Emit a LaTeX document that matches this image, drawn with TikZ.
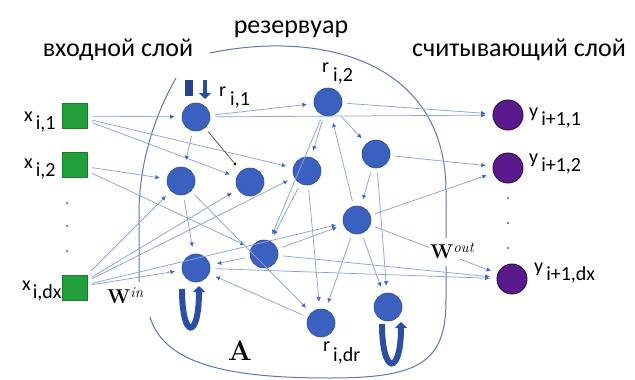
\documentclass[tikz,border=0pt]{standalone}
\usepackage{fontspec}
\setmainfont{Carlito}
\newfontfamily\lmrfam{Latin Modern Roman}
\usetikzlibrary{arrows.meta}
\definecolor{resblue}{HTML}{3A60C0}
\definecolor{resdark}{HTML}{2C4C9C}
\definecolor{ingreen}{HTML}{22A03A}
\definecolor{indark}{HTML}{1A7A2C}
\definecolor{outpurple}{HTML}{5A1A8E}
\definecolor{outdark}{HTML}{2A0A40}
\definecolor{edgeblue}{HTML}{8AA4DC}
\definecolor{arrowblue}{HTML}{3F66C8}
\definecolor{loopblue}{HTML}{2C4FA6}
\definecolor{boundblue}{HTML}{5A78B8}
\begin{document}
\begin{tikzpicture}[x=1pt,y=-1pt,
  resn/.style={circle, fill=resblue, draw=resdark, line width=0.6pt, minimum size=28pt, inner sep=0pt},
  inpn/.style={rectangle, fill=ingreen, draw=indark, line width=0.6pt, minimum size=25pt, inner sep=0pt},
  outn/.style={circle, fill=outpurple, draw=outdark, line width=0.9pt, minimum size=30pt, inner sep=0pt},
  conn/.style={draw=edgeblue, line width=0.75pt, -{Latex[length=4.5pt,width=4.5pt,color=arrowblue]}, shorten >=7pt, shorten <=5pt},
  darkconn/.style={conn, draw=black!65, -{Latex[length=3pt,width=3pt,color=black]}},
  loopst/.style={draw=loopblue, line width=6pt, -{Triangle[length=6pt,width=12pt]}},
  bound/.style={draw=boundblue, line width=1pt},
  lab/.style={font=\fontsize{20}{24}\selectfont, inner sep=0pt, anchor=base west},
  title/.style={font=\fontsize{26}{30}\selectfont, inner sep=0pt, anchor=base},
  dotn/.style={circle, fill=black!60, minimum size=2.4pt, inner sep=0pt}
]
\useasboundingbox (0,0) rectangle (635,380);
\fill[white] (0,0) rectangle (635,380);

% titles
\node[title] (tin) at (118,56) {входной слой};
\node[title] (tres) at (291,34) {резервуар};
\node[title] (tout) at (519,56) {считывающий слой};

% reservoir boundary
\draw[bound] (210,53) .. controls (320,30) and (445,60) .. (446,190) -- (446,238);
\draw[bound] (446,266) -- (446,300) .. controls (446,362) and (420,378) .. (330,378)
  .. controls (240,378) and (165,368) .. (150,317);
\draw[bound] (176,78) .. controls (155,115) and (140,160) .. (139,210) -- (139,282);

% input nodes
\node[inpn] (x1) at (74.5,116) {};
\node[inpn] (x2) at (74.5,165) {};
\node[inpn] (xd) at (74.5,287.5) {};
% reservoir nodes
\node[resn] (r1) at (196,117) {};
\node[resn] (r2) at (328,102) {};
\node[resn] (n3) at (181,181) {};
\node[resn] (n4) at (250,182) {};
\node[resn] (n5) at (307,171) {};
\node[resn] (n6) at (376,154) {};
\node[resn] (n7) at (357,220) {};
\node[resn] (n8) at (264,254) {};
\node[resn] (n9) at (196,268) {};
\node[resn] (n10) at (321,323) {};
\node[resn] (n11) at (388,307) {};
% output nodes
\node[outn] (y1) at (508,115) {};
\node[outn] (y2) at (508,168) {};
\node[outn] (yd) at (512,279) {};

% dots
\node[dotn] (dl1) at (67,203) {};
\node[dotn] (dl2) at (67,226) {};
\node[dotn] (dl3) at (67,251) {};
\node[dotn] (dr1) at (508,198) {};
\node[dotn] (dr2) at (508,223) {};
\node[dotn] (dr3) at (508,248) {};

% input connections
\draw[conn] (x1) -- (r1);
\draw[conn] (x1) -- (n5);
\draw[conn] (x1) -- (n4);
\draw[conn] (x2) -- (n3);
\draw[conn] (x2) -- (n8);
\draw[conn] (xd) -- (n3);
\draw[conn] (xd) -- (n4);
\draw[conn] (xd) -- (n5);
\draw[conn] (xd) -- (n7);
\draw[conn] (xd) -- (n9);

% internal connections
\draw[conn] (r1) -- (r2);
\draw[conn] (r1) -- (n3);
\draw[darkconn] (r1) -- (n4);
\draw[conn] (n3) -- (n9);
\draw[conn] (n3) -- (n10);
\draw[conn] (r2) -- (n5);
\draw[conn] (r2) -- (n6);
\draw[conn] (r2) -- (n8);
\draw[conn] (n7) -- (r2);
\draw[conn] (n6) -- (n7);
\draw[conn] (n6) -- (n11);
\draw[conn] (n5) -- (n8);
\draw[conn] (n5) -- (n10);
\draw[conn] (n7) -- (n10);
\draw[conn] (n7) -- (n11);
\draw[conn] (n8) -- (n9);
\draw[conn] (n8) -- (n7);
\draw[conn] (n10) -- (n9);

% output connections
\draw[conn] (r1) -- (y1);
\draw[conn] (r2) -- (y1);
\draw[conn] (n6) -- (y2);
\draw[conn] (n7) -- (y2);
\draw[conn] (n7) -- (yd);
\draw[conn] (n8) -- (yd);
\draw[conn] (n9) -- (yd);

% self loops
\coordinate (l9a) at (182,289);
\coordinate (l9b) at (199,286);
\draw[loopst] (l9a) .. controls (182,340) and (199,340) .. (l9b);
\coordinate (l11a) at (382,324);
\coordinate (l11b) at (401,322);
\draw[loopst] (l11a) .. controls (382,376) and (401,376) .. (l11b);
\coordinate (l1a) at (189,80);
\coordinate (l1b) at (189,96);
\draw[draw=loopblue!85!black, line width=8pt] (l1a) -- (l1b);
\coordinate (l1c) at (205,80);
\coordinate (l1d) at (205,99);
\draw[draw=loopblue, line width=3.5pt, -{Triangle[length=6pt,width=12pt]}] (l1c) -- (l1d);

% weight labels
\node[fill=white, inner sep=1pt, anchor=base west] (win) at (106,303)
  {\lmrfam\fontsize{20}{24}\selectfont\bfseries W\raisebox{6pt}{\mdseries\itshape\fontsize{15}{17}\selectfont in}};
\node[fill=white, inner sep=1pt, anchor=base west] (wout) at (429,258)
  {\lmrfam\fontsize{20}{24}\selectfont\bfseries W\raisebox{6pt}{\mdseries\itshape\fontsize{15}{17}\selectfont out}};
\node[anchor=base west, inner sep=0pt] (amat) at (228,360) {\lmrfam\fontsize{28}{32}\selectfont\bfseries A};

% node labels
\node[lab] (lx1) at (24,121) {x\hspace{3pt}\raisebox{-8pt}{i,1}};
\node[lab] (lx2) at (24,168) {x\hspace{3pt}\raisebox{-8pt}{i,2}};
\node[lab] (lxd) at (22,290) {x\hspace{2pt}\raisebox{-8pt}{i,dx}};
\node[lab] (lr1) at (219,96) {r\hspace{4pt}\raisebox{-9pt}{i,1}};
\node[lab] (lr2) at (322,72) {r\hspace{4pt}\raisebox{-9pt}{i,2}};
\node[lab] (lrd) at (323,351) {r\hspace{3pt}\raisebox{-10pt}{i,dr}};
\node[lab] (ly1) at (529,117) {y\hspace{3pt}\raisebox{-8pt}{i+1,1}};
\node[lab] (ly2) at (529,163) {y\hspace{3pt}\raisebox{-8pt}{i+1,2}};
\node[lab] (lyd) at (534,272) {y\hspace{3pt}\raisebox{-8pt}{i+1,dx}};
\end{tikzpicture}
\end{document}
